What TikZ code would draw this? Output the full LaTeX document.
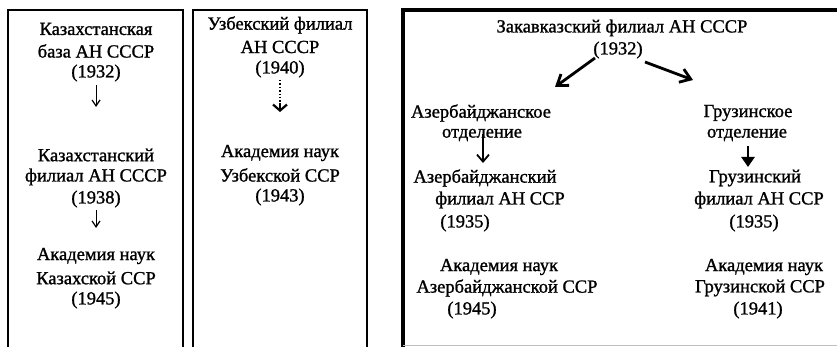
\documentclass[tikz,border=0pt]{standalone}
\usepackage{fontspec}
\setmainfont{Liberation Serif}[FakeBold=1.2]
\usetikzlibrary{arrows.meta}
\tikzset{
  txt/.style={inner sep=0pt, font=\fontsize{18.5}{20}\selectfont},
  boxline/.style={line width=1.8pt},
  thickbox/.style={line width=3.4pt},
  thinarr/.style={line width=1pt, -{Straight Barb[length=6pt,width=8pt,line width=1.2pt]}},
  heavyarr/.style={line width=2.8pt, -{Straight Barb[length=10pt,width=14pt,line width=2.8pt]}},
  fillarr/.style={line width=2.6pt, -{Triangle[length=10pt,width=13pt]}},
}
\begin{document}
\begin{tikzpicture}[x=1pt,y=-1pt]
\useasboundingbox (0,0) rectangle (837,347);
% boxes
\draw[boxline] (8,348) -- (8,10) -- (183,10) -- (183,348);
\draw[boxline] (193,348) -- (193,10) -- (367,10) -- (367,348);
\draw[thickbox] (403,348) -- (403,10) -- (840,10);
\draw[line width=0.5pt, gray!50] (403,345.5) -- (840,345.5);
% Kazakh
\node[txt] (k1) at (96,29) {Казахстанская};
\node[txt] (k2) at (96,51) {база АН СССР};
\node[txt] (k3) at (96,73) {(1932)};
\node[txt] (k4) at (96,155) {Казахстанский};
\node[txt] (k5) at (96,177) {филиал АН СССР};
\node[txt] (k6) at (96,199) {(1938)};
\node[txt] (k7) at (96,256) {Академия наук};
\node[txt] (k8) at (96,278) {Казахской ССР};
\node[txt] (k9) at (96,300) {(1945)};
\coordinate (ka1) at (96,85);
\coordinate (ka2) at (96,107);
\coordinate (kb1) at (96,210);
\coordinate (kb2) at (96,228);
\draw[thinarr] (ka1) -- (ka2);
\draw[thinarr] (kb1) -- (kb2);
% Uzbek
\node[txt] (u1) at (280,25) {Узбекский филиал};
\node[txt] (u2) at (280,47) {АН СССР};
\node[txt] (u3) at (280,69) {(1940)};
\node[txt] (u4) at (280,153) {Академия наук};
\node[txt] (u5) at (280,175) {Узбекской ССР};
\node[txt] (u6) at (280,197) {(1943)};
\coordinate (ua1) at (280,80);
\coordinate (ua2) at (280,112);
\coordinate (ua3) at (280,103);
\draw[line width=1.4pt, dotted] (ua1) -- (ua3);
\draw[line width=2.2pt, -{Straight Barb[length=6pt,width=14pt,line width=2.2pt]}] (ua3) -- (ua2);
% Transcaucasus
\node[txt] (t1) at (622,28) {Закавказский филиал АН СССР};
\node[txt] (t2) at (618,50) {(1932)};
\coordinate (la1) at (595,58);
\coordinate (la2) at (555,87);
\coordinate (ra1) at (645,62);
\coordinate (ra2) at (693,80);
\draw[heavyarr] (la1) -- (la2);
\draw[heavyarr] (ra1) -- (ra2);
\node[txt] (a1) at (481,113) {Азербайджанское};
\node[txt] (a2) at (482,135) {отделение};
\node[txt] (g1) at (748,113) {Грузинское};
\node[txt] (g2) at (747,135) {отделение};
\coordinate (aa1) at (483,134);
\coordinate (aa2) at (483,163);
\draw[line width=1.8pt, -{Straight Barb[length=7pt,width=12pt,line width=1.8pt]}] (aa1) -- (aa2);
\coordinate (ga1) at (748,146);
\coordinate (ga2) at (748,167);
\draw[fillarr] (ga1) -- (ga2);
\node[txt] (a3) at (485,178) {Азербайджанский};
\node[txt] (a4) at (500,200) {филиал АН ССР};
\node[txt] (a5) at (465,223) {(1935)};
\node[txt] (g3) at (755,178) {Грузинский};
\node[txt] (g4) at (759,200) {филиал АН ССР};
\node[txt] (g5) at (754,223) {(1935)};
\node[txt] (a6) at (499,267) {Академия наук};
\node[txt] (a7) at (507,288) {Азербайджанской ССР};
\node[txt] (a8) at (472,310) {(1945)};
\node[txt] (g6) at (764,267) {Академия наук};
\node[txt] (g7) at (760,288) {Грузинской ССР};
\node[txt] (g8) at (758,310) {(1941)};
\end{tikzpicture}
\end{document}
